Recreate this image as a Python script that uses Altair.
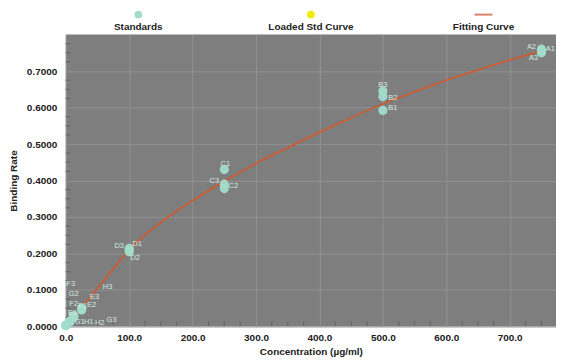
import altair as alt
import pandas as pd

# ---- data ----
std_labels = ["A1", "A2", "A3", "B1", "B2", "B3", "C1", "C2", "C3", "D1", "D2", "D3",
              "E1", "E2", "E3", "F1", "F2", "F3", "G1", "G2", "G3", "H1", "H2", "H3"]
std_conc = [750, 750, 750, 500, 500, 500, 250, 250, 250, 100, 100, 100,
            25, 25, 25, 12.5, 12.5, 12.5, 6.25, 6.25, 6.25, 0, 0, 0]
std_rate = [0.760, 0.755, 0.750, 0.592, 0.630, 0.645, 0.430, 0.378, 0.390, 0.214, 0.205, 0.210,
            0.048, 0.050, 0.045, 0.027, 0.025, 0.030, 0.013, 0.015, 0.012, 0.003, 0.002, 0.004]

curve_conc = [0, 25, 50, 75, 100, 150, 200, 250, 300, 350, 400, 450, 500, 550, 600, 650, 700, 750]
curve_rate = [0.0, 0.052, 0.105, 0.158, 0.210, 0.285, 0.345, 0.398, 0.447, 0.490, 0.532,
              0.572, 0.610, 0.643, 0.675, 0.703, 0.730, 0.755]

legend_names = ["Standards", "Loaded Std Curve", "Fitting Curve"]
legend_colors = ["#a2dccb", "#f2ea00", "#c8502a"]
legend_kinds = ["circle", "circle", "line"]

x_ticks = [0, 100, 200, 300, 400, 500, 600, 700]
y_ticks = [0.0, 0.1, 0.2, 0.3, 0.4, 0.5, 0.6, 0.7]
y_minor = [0.025, 0.05, 0.075, 0.125, 0.15, 0.175, 0.225, 0.25, 0.275, 0.325, 0.35, 0.375,
           0.425, 0.45, 0.475, 0.525, 0.55, 0.575, 0.625, 0.65, 0.675, 0.725, 0.75, 0.775]
x_minor = [25, 50, 75, 125, 150, 175, 225, 250, 275, 325, 350, 375, 425, 450, 475,
           525, 550, 575, 625, 650, 675, 725, 750]

# label placement (pixel nudges, layout only)
label_nudge = {
    "A1": (9, 0), "A2": (-10, -4), "A3": (-8, 5),
    "B1": (10, -2), "B2": (10, 1), "B3": (0, -6),
    "C1": (1, -6), "C2": (9, -3), "C3": (-10, -3),
    "D1": (8, -4), "D2": (6, 6), "D3": (-10, -4),
    "E1": (-9, 4), "E2": (10, -3), "E3": (13, -13),
    "F1": (9, -11), "F2": (0, -13), "F3": (-3, -32),
    "G1": (10, 0), "G2": (4, -27), "G3": (42, -2),
    "H1": (23, -3), "H2": (34, -3), "H3": (42, -38),
}

std = pd.DataFrame({"label": std_labels, "conc": std_conc, "rate": std_rate})
curve = pd.DataFrame({"conc": curve_conc, "rate": curve_rate})
leg = pd.DataFrame({"name": legend_names, "color": legend_colors, "kind": legend_kinds})
ymin = pd.DataFrame({"rate": y_minor})
xmin = pd.DataFrame({"conc": x_minor})

FONT = "Liberation Sans"
W, H = 492, 293

xs = alt.Scale(domain=[0, 773], nice=False)
ys = alt.Scale(domain=[0, 0.8], nice=False)

xax = alt.Axis(values=x_ticks, format=".1f", title="Concentration (µg/ml)",
               labelFont=FONT, labelFontWeight="bold", labelFontSize=10, labelColor="#222",
               titleFont=FONT, titleFontWeight="bold", titleFontSize=10, titleColor="#222",
               grid=True, gridColor="#929292", gridWidth=1, ticks=False, domain=False,
               labelFlush=False, labelPadding=6, titlePadding=4)
yax = alt.Axis(values=y_ticks, format=".4f", title="Binding Rate",
               labelFont=FONT, labelFontWeight="bold", labelFontSize=10, labelColor="#222",
               titleFont=FONT, titleFontWeight="bold", titleFontSize=10, titleColor="#222",
               grid=True, gridColor="#929292", gridWidth=1, ticks=False, domain=False,
               labelFlush=False, labelPadding=9, titlePadding=8)

base_x = alt.X("conc:Q", scale=xs, axis=xax)
base_y = alt.Y("rate:Q", scale=ys, axis=yax)

line = alt.Chart(curve).mark_line(color="#d4582a", strokeWidth=1.6, interpolate="monotone").encode(
    x=base_x, y=base_y)

pts = alt.Chart(std).mark_circle(size=85, color="#a2dccb", opacity=0.95).encode(
    x=base_x, y=base_y)

yticks_in = alt.Chart(ymin).mark_tick(orient="horizontal", size=5, thickness=1,
                                      color="#5a5a5a").encode(
    y=alt.Y("rate:Q", scale=ys, axis=yax), x=alt.value(2))
xticks_in = alt.Chart(xmin).mark_tick(orient="vertical", size=5, thickness=1,
                                      color="#5a5a5a").encode(
    x=alt.X("conc:Q", scale=xs, axis=xax), y=alt.value(H - 3))

lab_common = dict(fontSize=7.5, font=FONT, fill="#d3ebe3", align="center", baseline="middle")
label_layers = []
for lab in std_labels:
    dx, dy = label_nudge[lab]
    label_layers.append(
        alt.Chart(std).transform_filter(alt.datum.label == lab)
        .mark_text(dx=dx, dy=dy, **lab_common)
        .encode(x=base_x, y=base_y, text="label:N")
    )

main = alt.layer(yticks_in, xticks_in, line, pts, *label_layers).properties(
    width=W, height=H,
    view=alt.ViewBackground(fill="#7e7e7e", stroke=None))

# legend strip on top (symbol above label)
lx = alt.X("name:N", sort=legend_names, axis=None,
           scale=alt.Scale(type="point", padding=0.42))
leg_pts = alt.Chart(leg).transform_filter("datum.kind == 'circle'").mark_circle(
    size=60, opacity=1).encode(
    x=lx, y=alt.value(6),
    color=alt.Color("color:N", scale=None, legend=None))
leg_line = alt.Chart(leg).transform_filter("datum.kind == 'line'").mark_tick(
    orient="horizontal", size=18, thickness=2).encode(
    x=lx, y=alt.value(6),
    color=alt.Color("color:N", scale=None, legend=None))
leg_txt = alt.Chart(leg).mark_text(font=FONT, fontWeight="bold", fontSize=10,
                                   color="#222", baseline="middle").encode(
    x=lx, y=alt.value(18), text="name:N")
legend = alt.layer(leg_pts, leg_line, leg_txt).properties(
    width=W, height=26, view=alt.ViewBackground(stroke=None))

chart = alt.vconcat(legend, main, spacing=0).properties(
    padding={"left": 0, "top": 0, "right": 0, "bottom": 0}
).configure_view(stroke=None)

chart.save("out.html", embed_options={"renderer": "svg", "actions": False})
